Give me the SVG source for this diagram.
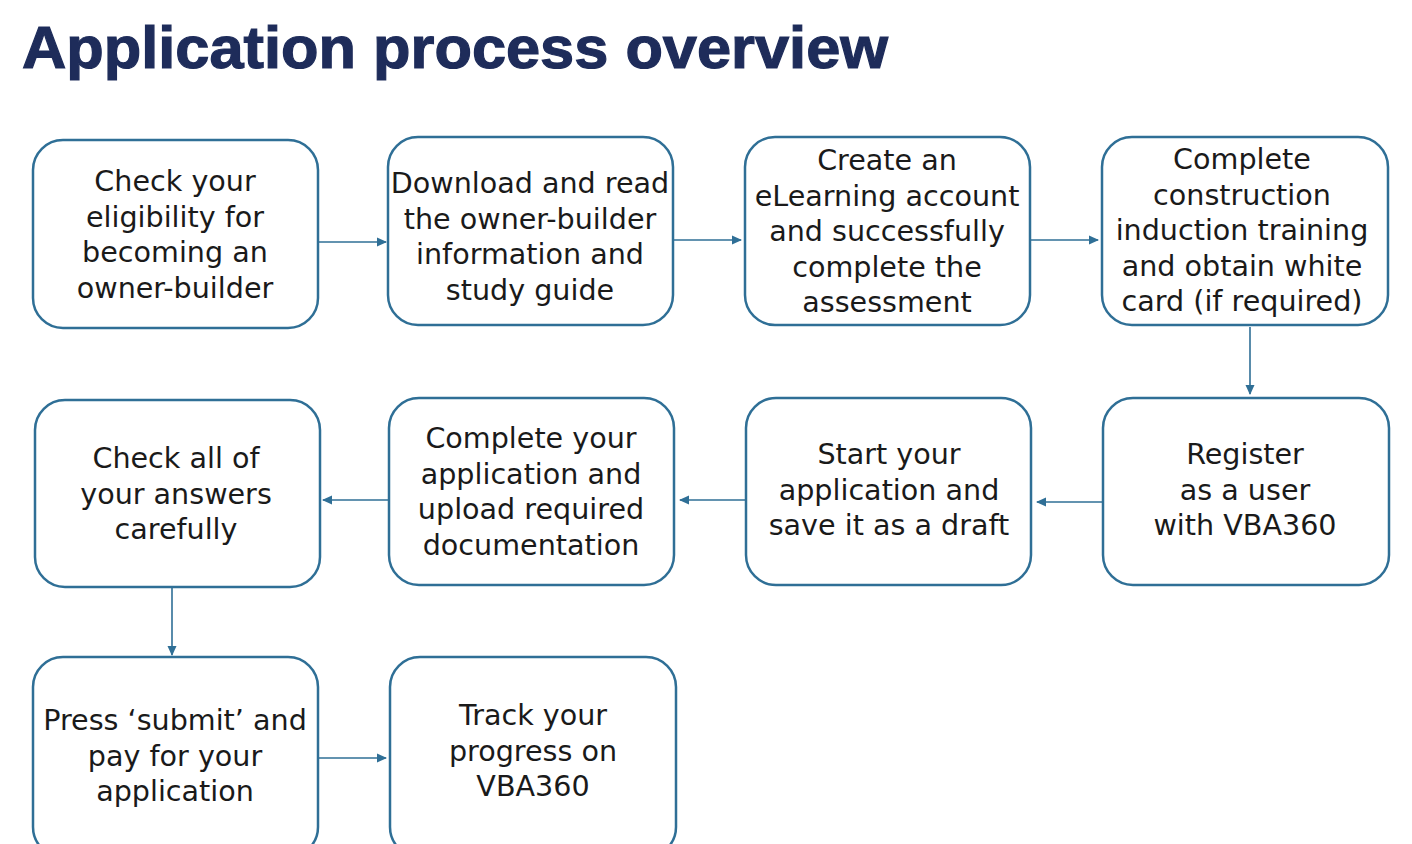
<svg xmlns="http://www.w3.org/2000/svg" width="1412" height="844" viewBox="0 0 1412 844">
<defs>
<marker id="ah" markerWidth="12" markerHeight="12" refX="9" refY="6" orient="auto" markerUnits="userSpaceOnUse">
<path d="M0,1.5 L10,6 L0,10.5 Z" fill="#2f6f96"/>
</marker>
<style>
.box{fill:#fff;stroke:#2f6f96;stroke-width:2.5}
.t{font-family:"DejaVu Sans","Liberation Sans",sans-serif;font-size:28.6px;fill:#1a1a1a;text-anchor:middle}
.c{stroke:#2f6f96;stroke-width:1.6;fill:none;marker-end:url(#ah)}
.title{font-family:"Liberation Sans",Arial,sans-serif;font-weight:bold;font-size:60px;fill:#1e2c5a;stroke:#1e2c5a;stroke-width:1.2}
</style>
</defs>
<rect width="1412" height="844" fill="#fff"/>
<text class="title" x="22" y="68" textLength="866" lengthAdjust="spacingAndGlyphs">Application process overview</text>
<g id="connectors">
<line class="c" x1="319" y1="242" x2="386" y2="242"/>
<line class="c" x1="674" y1="240" x2="741" y2="240"/>
<line class="c" x1="1031" y1="240" x2="1098" y2="240"/>
<line class="c" x1="1250" y1="327" x2="1250" y2="394"/>
<line class="c" x1="1102" y1="502" x2="1037" y2="502"/>
<line class="c" x1="745" y1="500" x2="680" y2="500"/>
<line class="c" x1="388" y1="500" x2="323" y2="500"/>
<line class="c" x1="172" y1="588" x2="172" y2="655"/>
<line class="c" x1="319" y1="758" x2="386" y2="758"/>
</g>
<g id="n1"><rect class="box" x="33" y="140" width="285" height="188" rx="30"/>
<text class="t" x="175" y="191">Check your</text><text class="t" x="175" y="226.5">eligibility for</text><text class="t" x="175" y="262">becoming an</text><text class="t" x="175" y="297.5">owner-builder</text></g>
<g id="n2"><rect class="box" x="388" y="137" width="285" height="188" rx="30"/>
<text class="t" x="530" y="193">Download and read</text><text class="t" x="530" y="228.5">the owner-builder</text><text class="t" x="530" y="264">information and</text><text class="t" x="530" y="299.5">study guide</text></g>
<g id="n3"><rect class="box" x="745" y="137" width="285" height="188" rx="30"/>
<text class="t" x="887" y="170">Create an</text><text class="t" x="887" y="205.5">eLearning account</text><text class="t" x="887" y="241">and successfully</text><text class="t" x="887" y="276.5">complete the</text><text class="t" x="887" y="312">assessment</text></g>
<g id="n4"><rect class="box" x="1102" y="137" width="286" height="188" rx="30"/>
<text class="t" x="1242" y="169">Complete</text><text class="t" x="1242" y="204.5">construction</text><text class="t" x="1242" y="240">induction training</text><text class="t" x="1242" y="275.5">and obtain white</text><text class="t" x="1242" y="311">card (if required)</text></g>
<g id="n5"><rect class="box" x="35" y="400" width="285" height="187" rx="30"/>
<text class="t" x="176" y="468">Check all of</text><text class="t" x="176" y="503.5">your answers</text><text class="t" x="176" y="539">carefully</text></g>
<g id="n6"><rect class="box" x="389" y="398" width="285" height="187" rx="30"/>
<text class="t" x="531" y="448">Complete your</text><text class="t" x="531" y="483.5">application and</text><text class="t" x="531" y="519">upload required</text><text class="t" x="531" y="554.5">documentation</text></g>
<g id="n7"><rect class="box" x="746" y="398" width="285" height="187" rx="30"/>
<text class="t" x="889" y="464">Start your</text><text class="t" x="889" y="499.5">application and</text><text class="t" x="889" y="535">save it as a draft</text></g>
<g id="n8"><rect class="box" x="1103" y="398" width="286" height="187" rx="30"/>
<text class="t" x="1245" y="464">Register</text><text class="t" x="1245" y="499.5">as a user</text><text class="t" x="1245" y="535">with VBA360</text></g>
<g id="n9"><rect class="box" x="33" y="657" width="285" height="200" rx="30"/>
<text class="t" x="175" y="730">Press ‘submit’ and</text><text class="t" x="175" y="765.5">pay for your</text><text class="t" x="175" y="801">application</text></g>
<g id="n10"><rect class="box" x="390" y="657" width="286" height="200" rx="30"/>
<text class="t" x="533" y="725">Track your</text><text class="t" x="533" y="760.5">progress on</text><text class="t" x="533" y="796">VBA360</text></g>
</svg>
